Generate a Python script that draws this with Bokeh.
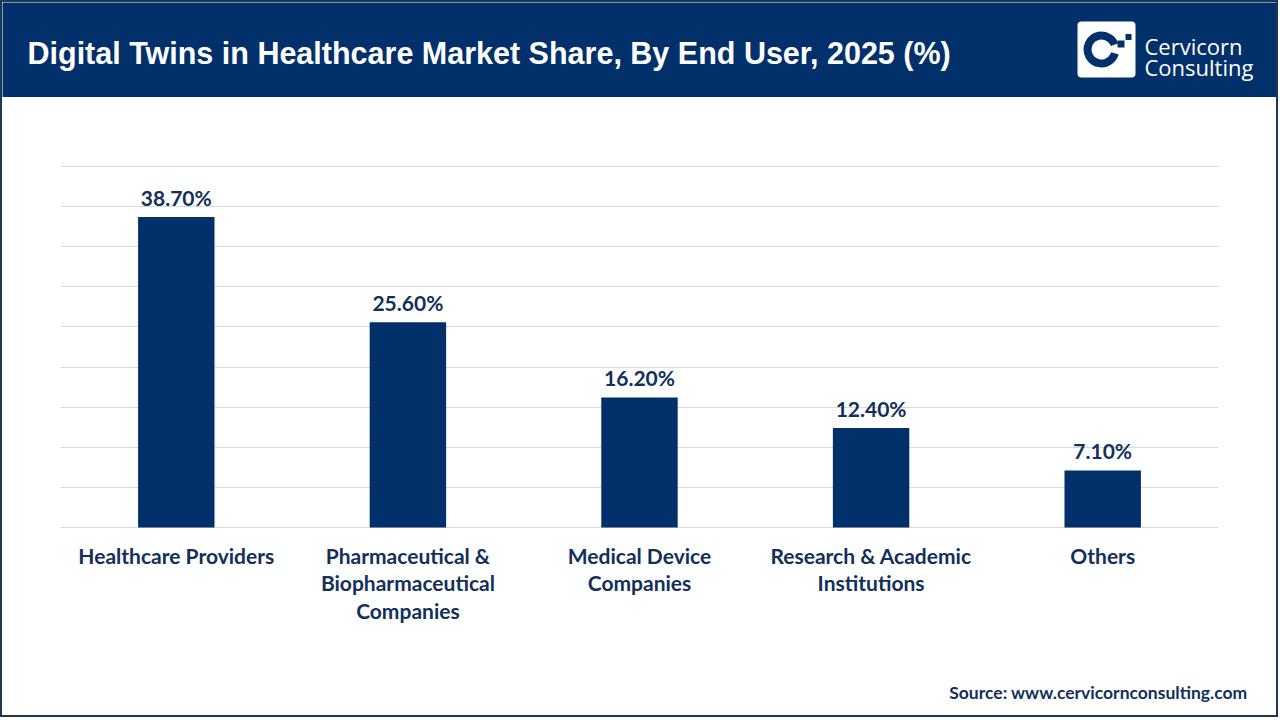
from bokeh.plotting import figure
from bokeh.models import Range1d, FixedTicker, ColumnDataSource
from bokeh.layouts import column
from bokeh.core.properties import value
from bokeh.embed import file_html
from bokeh.resources import INLINE

# ---- data ----
categories = ["Healthcare Providers",
              "Pharmaceutical & Biopharmaceutical Companies",
              "Medical Device Companies",
              "Research & Academic Institutions",
              "Others"]
tick_labels = ["Healthcare Providers",
               "Pharmaceutical &\nBiopharmaceutical\nCompanies",
               "Medical Device\nCompanies",
               "Research & Academic\nInstitutions",
               "Others"]
shares = [38.7, 25.6, 16.2, 12.4, 7.1]
value_labels = ["38.70%", "25.60%", "16.20%", "12.40%", "7.10%"]
grid_ticks = [0, 5, 10, 15, 20, 25, 30, 35, 40, 45]
title_text = "Digital Twins in Healthcare Market Share, By End User, 2025 (%)"
source_text = "Source: www.cervicornconsulting.com"

NAVY = "#02306a"
TEXT = "#12305a"
W = 1274

def bare(fig, fill):
    fig.axis.visible = False
    fig.grid.visible = False
    fig.outline_line_color = None
    fig.background_fill_color = fill
    fig.border_fill_color = fill
    fig.min_border_left = 0
    fig.min_border_right = 0
    fig.min_border_top = 0
    fig.min_border_bottom = 0

# ---- header ----
hdr = figure(width=W, height=95, x_range=Range1d(2, 1276), y_range=Range1d(97, 2),
             output_backend="svg", toolbar_location=None, min_border=0)
bare(hdr, NAVY)
hdr.text(x=[27], y=[52], text=[title_text], text_color="white",
         text_font=value("Liberation Sans"), text_font_style="bold",
         text_font_size="30.5px", text_baseline="alphabetic", text_align="left")
# logo
hdr.rect(x=[1106], y=[49], width=58, height=56, fill_color="white", line_color=None,
         border_radius=4)
hdr.annular_wedge(x=[1101], y=[49], inner_radius=10, outer_radius=18,
                  start_angle=0.35, end_angle=6.0, fill_color=NAVY, line_color=None,
                  direction="anticlock")
hdr.rect(x=[1128, 1120.5], y=[36.5, 43.5], width=[6, 7], height=[6, 7],
         fill_color=NAVY, line_color=None)
hdr.text(x=[1144, 1144], y=[45, 66], text=["Cervicorn", "Consulting"],
         text_color="white", text_font=value("Open Sans"), text_font_size="22px",
         text_baseline="alphabetic", text_align="left")

# ---- main chart ----
ppu = 361 / 45.0                # pixels per percentage point
top_pad = 2                     # px above the 45% gridline
frame_h = 474 + top_pad
ymax = 45 + top_pad / ppu
ymin = ymax - frame_h / ppu
src = ColumnDataSource(dict(cat=categories, val=shares, lab=value_labels,
                            tick=tick_labels, zero=[0] * len(categories)))
p = figure(width=W, height=543, x_range=categories, y_range=Range1d(ymin, ymax),
           output_backend="svg", toolbar_location=None,
           min_border_left=58, min_border_right=58, min_border_top=69 - top_pad,
           min_border_bottom=0)
p.outline_line_color = None
p.vbar(x="cat", top="val", width=0.33, source=src, fill_color=NAVY, line_color=None)
p.text(x="cat", y="val", text="lab", source=src, y_offset=-20,
       text_align="center", text_baseline="alphabetic",
       text_font=value("Lato"), text_font_style="bold",
       text_font_size="21px", text_color=TEXT)
p.text(x="cat", y="zero", text="tick", source=src, y_offset=15,
       text_align="center", text_baseline="top", text_line_height=1.1,
       text_font=value("Lato"), text_font_style="bold",
       text_font_size="21px", text_color=TEXT)
p.xgrid.visible = False
p.ygrid.ticker = FixedTicker(ticks=grid_ticks)
p.ygrid.grid_line_color = "#d9d9d9"
p.axis.visible = False

# ---- footer ----
ftr = figure(width=W, height=75, x_range=Range1d(2, 1276), y_range=Range1d(715, 640),
             output_backend="svg", toolbar_location=None, min_border=0)
bare(ftr, "white")
ftr.text(x=[1247], y=[692], text=[source_text], text_color=TEXT,
         text_font=value("Lato"), text_font_style="bold", text_font_size="17.5px",
         text_align="right", text_baseline="alphabetic")

layout = column(column(hdr), p, column(ftr), spacing=0,
                styles={"border": "2px solid #1a3858"})
open("out.html", "w").write(file_html(layout, INLINE))
